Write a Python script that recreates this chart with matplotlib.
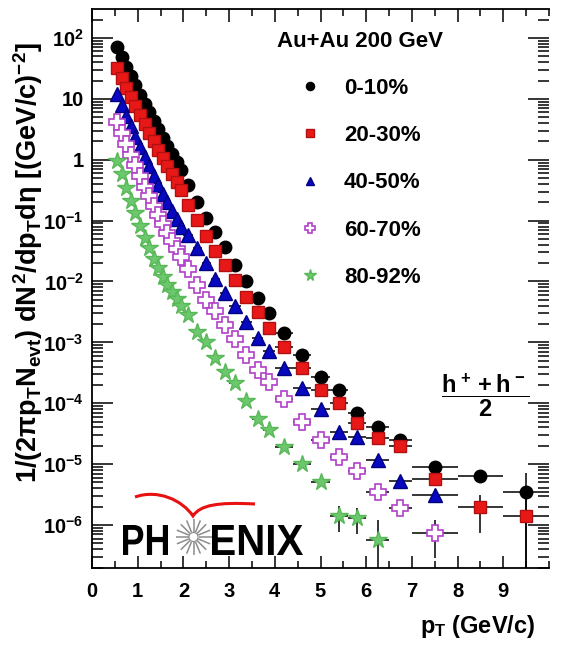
import matplotlib
matplotlib.use('Agg')
import matplotlib.pyplot as plt
from matplotlib import font_manager
from matplotlib.font_manager import FontProperties
from matplotlib.lines import Line2D
from matplotlib.path import Path
from matplotlib.patches import PathPatch, Circle
from matplotlib.textpath import TextPath
from matplotlib.transforms import Affine2D
from matplotlib.ticker import MultipleLocator, LogLocator, FixedLocator, FuncFormatter, NullFormatter
import numpy as np

installed = {f.name for f in font_manager.fontManager.ttflist}
FONT = 'Liberation Sans Narrow' if 'Liberation Sans Narrow' in installed else 'Liberation Sans'

plt.rcParams.update({
    'font.family': FONT,
    'font.weight': 'bold',
    'axes.labelweight': 'bold',
    'mathtext.fontset': 'custom',
    'mathtext.rm': FONT + ':bold',
    'mathtext.it': FONT + ':bold',
    'mathtext.bf': FONT + ':bold',
    'mathtext.sf': FONT + ':bold',
})

# pT bin edges (GeV/c)
pt_edges = [0.5, 0.6, 0.7, 0.8, 0.9, 1.0, 1.1, 1.2, 1.3, 1.4, 1.5, 1.6, 1.7, 1.8, 1.9, 2.0,
            2.2, 2.4, 2.6, 2.8, 3.0, 3.25, 3.5, 3.75, 4.0, 4.4, 4.8, 5.2, 5.6, 6.0,
            6.5, 7.0, 8.0, 9.0, 10.0]

# (h+ + h-)/2 invariant yields per centrality class
cent_0_10 = [70.8, 47.9, 33.1, 23.4, 16.6, 11.7, 8.3, 6.0, 4.4, 3.16, 2.29, 1.66, 1.23, 0.93, 0.68,
             0.39, 0.204, 0.11, 0.066, 0.037, 0.0186, 0.0100, 0.0054, 0.0030,
             1.42e-3, 6.2e-4, 2.75e-4, 1.66e-4, 6.9e-5, 4.1e-5, 2.5e-5, 9.1e-6, 6.4e-6, 3.55e-6]
cent_20_30 = [31.6, 21.9, 15.1, 10.7, 7.6, 5.4, 3.8, 2.75, 2.0, 1.45, 1.05, 0.78, 0.575, 0.43, 0.32,
              0.18, 0.102, 0.056, 0.032, 0.0186, 0.0105, 5.5e-3, 3.1e-3, 1.7e-3,
              8.5e-4, 3.8e-4, 1.66e-4, 1.0e-4, 4.7e-5, 2.67e-5, 1.95e-5, 5.7e-6, 1.94e-6, 1.42e-6]
cent_40_50 = [12.0, 7.9, 5.25, 3.55, 2.4, 1.62, 1.12, 0.78, 0.55, 0.39, 0.275, 0.20, 0.145, 0.107, 0.079,
              0.058, 0.035, 0.020, 0.011, 6.5e-3, 3.9e-3, 2.2e-3, 1.17e-3, 7.1e-4,
              3.8e-4, 1.77e-4, 8.0e-5, 3.4e-5, 2.84e-5, 1.17e-5, 5.2e-6, 3.1e-6]
cent_60_70 = [4.2, 2.7, 1.78, 1.2, 0.81, 0.54, 0.36, 0.25, 0.174, 0.123, 0.087, 0.063, 0.046, 0.034, 0.025,
              0.0158, 8.9e-3, 5.0e-3, 3.3e-3, 1.9e-3, 1.12e-3, 6.2e-4, 3.5e-4, 2.2e-4,
              1.17e-4, 5.0e-5, 2.5e-5, 1.33e-5, 7.6e-6, 3.55e-6, 1.9e-6, 7.4e-7]
cent_80_92 = [0.95, 0.575, 0.347, 0.214, 0.132, 0.081, 0.052, 0.035, 0.0234, 0.0166, 0.012, 8.9e-3,
              6.8e-3, 5.1e-3, 4.0e-3,
              2.83e-3, 1.5e-3, 1.03e-3, 5.5e-4, 3.3e-4, 2.14e-4, 1.1e-4, 5.5e-5, 3.7e-5,
              1.9e-5, 1.02e-5, 5.1e-6, 1.42e-6, 1.3e-6, 5.7e-7]

# statistical errors on the highest-pT points (smaller ones hide under the markers)
err_0_10 = [4e-6, 3e-6, 1.6e-6, 1.5e-6, 3.6e-6]
err_20_30 = [3e-6, 2.5e-6, 1.4e-6, 1.2e-6, 1.45e-6]
err_40_50 = [1.5e-6, 1e-6, 8e-7]
err_60_70 = [5e-7, 4e-7, 4.5e-7]
err_80_92 = [6e-7, 6.5e-7, 6e-7, 6.6e-7]

labels = ['0-10%', '20-30%', '40-50%', '60-70%', '80-92%']

edges = np.array(pt_edges)
pt = 0.5 * (edges[1:] + edges[:-1])
pt_err = 0.5 * (edges[1:] - edges[:-1])

styles = [
    dict(marker='o', ms=9.0, mfc='black', mec='black'),
    dict(marker='s', ms=8.3, mfc='#e81818', mec='#b01010'),
    dict(marker='^', ms=9.8, mfc='#0808c0', mec='#000080'),
    dict(marker='P', ms=12.0, mfc='white', mec='#b040c8', mew=1.2),
    dict(marker='*', ms=13.0, mfc='#6cc86c', mec='#58b858'),
]
series = [(cent_0_10, err_0_10), (cent_20_30, err_20_30), (cent_40_50, err_40_50),
          (cent_60_70, err_60_70), (cent_80_92, err_80_92)]

fig = plt.figure(figsize=(5.62, 6.52), dpi=100)
ax = fig.add_axes([92 / 562, 84 / 652, 457 / 562, 559 / 652])

for (vals, tail), st in zip(series, styles):
    n = len(vals)
    yerr = np.concatenate([np.zeros(n - len(tail)), tail])
    ax.errorbar(pt[:n], vals, xerr=pt_err[:n], yerr=yerr, ls='none',
                ecolor='black', elinewidth=1.1, capsize=0, **st)

ax.set_yscale('log')
ax.set_xlim(0, 10)
ax.set_ylim(10 ** -6.706, 10 ** 2.476)

ax.xaxis.set_major_locator(FixedLocator(range(10)))
ax.xaxis.set_minor_locator(MultipleLocator(0.5))
ax.yaxis.set_major_locator(FixedLocator([10.0 ** k for k in range(-6, 3)]))
ax.yaxis.set_minor_locator(LogLocator(base=10, subs=np.arange(2, 10), numticks=30))
ax.yaxis.set_minor_formatter(NullFormatter())


def ylab(v, pos):
    k = int(round(np.log10(v)))
    if k == 0:
        return '1'
    if k == 1:
        return '10'
    return r'$10^{%d}$' % k


ax.yaxis.set_major_formatter(FuncFormatter(ylab))
ax.tick_params(which='both', direction='in', top=True, right=True, width=1.1, labelsize=14.5)
ax.tick_params(axis='x', which='major', length=9, pad=10)
ax.tick_params(axis='x', which='minor', length=5)
ax.tick_params(axis='y', which='major', length=15, pad=6)
ax.tick_params(axis='y', which='minor', length=8)
for s in ax.spines.values():
    s.set_linewidth(1.3)
ax.spines['right'].set_visible(False)

ax.set_ylabel(r'$1/(2\pi p_T N_{evt})\ dN^2/dp_T d\eta\ [(GeV/c)^{-2}]$', fontsize=19.5)
ax.yaxis.set_label_coords(-0.14, 0.547)
ax.yaxis.label.set_va('center')
ax.set_xlabel(r'$p_T$ (GeV/c)', fontsize=17)
ax.xaxis.set_label_coords(0.845, -0.105)
ax.xaxis.label.set_va('center')

handles = [Line2D([], [], ls='none', marker=st['marker'], ms=st['ms'] * 0.65,
                  mfc=st['mfc'], mec=st['mec'], mew=st.get('mew', 1.0)) for st in styles]
leg = ax.legend(handles, labels, title='Au+Au 200 GeV', loc='upper left',
                bbox_to_anchor=(0.405, 0.961), frameon=False, fontsize=16,
                title_fontproperties={'weight': 'bold', 'size': 16}, alignment='left',
                handlelength=3.0, handletextpad=0.0, labelspacing=1.18, borderpad=0,
                borderaxespad=0)

ax.text(0.862, 0.31, r'$\dfrac{h^+ + h^-}{2}$', transform=ax.transAxes,
        ha='center', va='center', fontsize=17)

# PHENIX logo, drawn in its own pixel-coordinate box (y grows downward)
lg = fig.add_axes([110 / 562, 87 / 652, 200 / 562, 80 / 652])
lg.set_xlim(110, 310)
lg.set_ylim(565, 485)
lg.axis('off')
bold = FontProperties(family=FONT, weight='bold')
for word, left, width in [('PH', 123, 45), ('ENIX', 212, 91)]:
    tp = TextPath((0, 0), word, size=40, prop=bold)
    ext = tp.get_extents()
    tr = (Affine2D().translate(-ext.x0, 0)
          .scale(width / ext.width, -30 / ext.height).translate(left, 555))
    lg.add_patch(PathPatch(tp.transformed(tr), fc='black', ec='none'))
cx, cy = 193.5, 537
for a in np.linspace(0, 2 * np.pi, 16, endpoint=False):
    lg.plot([cx + 5 * np.cos(a), cx + 18 * np.cos(a)], [cy + 5 * np.sin(a), cy + 18 * np.sin(a)],
            color='#8c8c8c', lw=1.1, solid_capstyle='butt')
lg.add_patch(Circle((cx, cy), 4.5, fc='white', ec='#8c8c8c', lw=0.8))
wing = Path([(135, 497), (158, 489), (182, 500), (193, 516),
             (200, 505), (218, 502), (255, 504)],
            [Path.MOVETO, Path.CURVE4, Path.CURVE4, Path.CURVE4,
             Path.CURVE4, Path.CURVE4, Path.CURVE4])
lg.add_patch(PathPatch(wing, fc='none', ec='#e81010', lw=2.2))

fig.savefig('out.png', dpi=100)
